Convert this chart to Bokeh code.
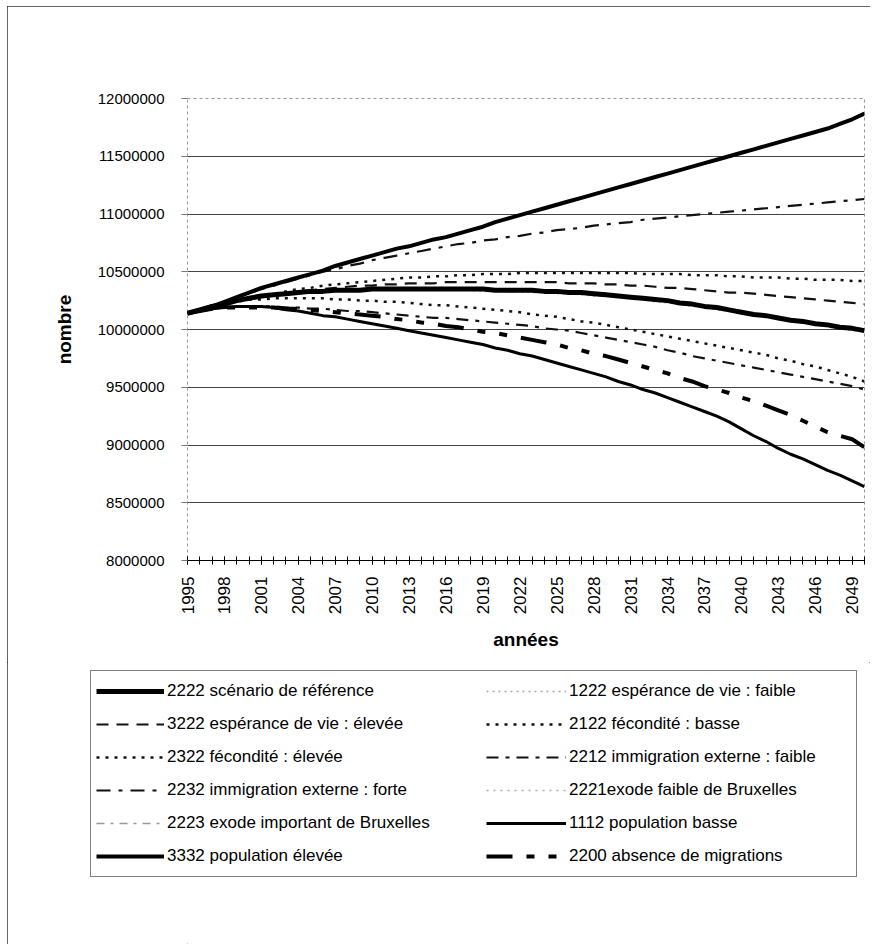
import math
from bokeh.plotting import figure
from bokeh.layouts import column
from bokeh.models import Range1d, FixedTicker, BasicTickFormatter, Legend, LegendItem, ColumnDataSource
from bokeh.embed import file_html
from bokeh.resources import INLINE

years = list(range(1995, 2051))

# values in millions of inhabitants, 1995..2050
s2222 = [10.14, 10.17, 10.20, 10.22, 10.25,
         10.27, 10.29, 10.30, 10.31, 10.32, 10.33, 10.33, 10.34, 10.34, 10.34,
         10.35, 10.35, 10.35, 10.35, 10.35, 10.35, 10.35, 10.35, 10.35, 10.35,
         10.34, 10.34, 10.34, 10.34, 10.33, 10.33, 10.32, 10.32, 10.31, 10.30,
         10.29, 10.28, 10.27, 10.26, 10.25, 10.23, 10.22, 10.20, 10.19, 10.17,
         10.15, 10.13, 10.12, 10.10, 10.08, 10.07, 10.05, 10.04, 10.02, 10.01,
         9.99]
s1222 = [10.14, 10.17, 10.20, 10.22, 10.25,
         10.27, 10.28, 10.30, 10.31, 10.32, 10.32, 10.33, 10.33, 10.34, 10.34,
         10.34, 10.34, 10.34, 10.34, 10.34, 10.34, 10.34, 10.34, 10.34, 10.33,
         10.33, 10.33, 10.33, 10.32, 10.32, 10.31, 10.31, 10.30, 10.29, 10.29,
         10.28, 10.27, 10.26, 10.24, 10.23, 10.22, 10.20, 10.19, 10.17, 10.16,
         10.14, 10.12, 10.11, 10.09, 10.07, 10.06, 10.04, 10.02, 10.01, 9.99,
         9.98]
s3222 = [10.14, 10.17, 10.20, 10.23, 10.25,
         10.27, 10.29, 10.30, 10.32, 10.33, 10.34, 10.35, 10.36, 10.37, 10.38,
         10.38, 10.39, 10.39, 10.40, 10.40, 10.40, 10.41, 10.41, 10.41, 10.41,
         10.41, 10.41, 10.41, 10.41, 10.41, 10.41, 10.40, 10.40, 10.40, 10.39,
         10.39, 10.38, 10.38, 10.37, 10.36, 10.36, 10.35, 10.34, 10.33, 10.32,
         10.32, 10.31, 10.30, 10.29, 10.28, 10.27, 10.26, 10.25, 10.24, 10.23,
         10.22]
s2122 = [10.14, 10.17, 10.20, 10.22, 10.24,
         10.26, 10.26, 10.27, 10.27, 10.27, 10.27, 10.27, 10.26, 10.26, 10.25,
         10.25, 10.24, 10.24, 10.23, 10.22, 10.21, 10.21, 10.20, 10.19, 10.18,
         10.17, 10.16, 10.15, 10.13, 10.12, 10.11, 10.09, 10.07, 10.06, 10.04,
         10.02, 10.00, 9.98, 9.96, 9.94, 9.92, 9.90, 9.88, 9.86, 9.84,
         9.82, 9.80, 9.78, 9.75, 9.73, 9.70, 9.68, 9.65, 9.62, 9.59,
         9.55]
s2322 = [10.14, 10.17, 10.20, 10.23, 10.25,
         10.27, 10.29, 10.31, 10.33, 10.35, 10.36, 10.38, 10.39, 10.40, 10.41,
         10.42, 10.43, 10.44, 10.45, 10.45, 10.46, 10.46, 10.47, 10.47, 10.48,
         10.48, 10.48, 10.49, 10.49, 10.49, 10.49, 10.49, 10.49, 10.49, 10.49,
         10.49, 10.49, 10.48, 10.48, 10.48, 10.48, 10.47, 10.47, 10.47, 10.46,
         10.46, 10.45, 10.45, 10.45, 10.44, 10.44, 10.43, 10.43, 10.43, 10.42,
         10.42]
s2212 = [10.14, 10.16, 10.18, 10.19, 10.20,
         10.20, 10.20, 10.20, 10.19, 10.19, 10.18, 10.18, 10.17, 10.16, 10.16,
         10.15, 10.14, 10.13, 10.12, 10.11, 10.10, 10.10, 10.09, 10.08, 10.07,
         10.06, 10.05, 10.04, 10.03, 10.01, 10.00, 9.99, 9.97, 9.95, 9.93,
         9.91, 9.89, 9.87, 9.85, 9.82, 9.80, 9.77, 9.75, 9.73, 9.71,
         9.69, 9.67, 9.65, 9.63, 9.61, 9.59, 9.57, 9.55, 9.53, 9.51,
         9.48]
s2232 = [10.14, 10.17, 10.21, 10.24, 10.28,
         10.31, 10.35, 10.38, 10.41, 10.44, 10.47, 10.50, 10.52, 10.55, 10.57,
         10.60, 10.62, 10.64, 10.66, 10.68, 10.70, 10.72, 10.74, 10.75, 10.77,
         10.78, 10.80, 10.81, 10.83, 10.84, 10.86, 10.87, 10.88, 10.90, 10.91,
         10.92, 10.93, 10.95, 10.96, 10.97, 10.98, 10.99, 11.00, 11.01, 11.02,
         11.03, 11.04, 11.05, 11.06, 11.07, 11.08, 11.09, 11.10, 11.11, 11.12,
         11.13]
s2221 = [10.14, 10.17, 10.20, 10.23, 10.25,
         10.27, 10.29, 10.30, 10.31, 10.32, 10.33, 10.34, 10.34, 10.35, 10.35,
         10.35, 10.36, 10.36, 10.36, 10.36, 10.36, 10.36, 10.36, 10.36, 10.35,
         10.35, 10.35, 10.34, 10.34, 10.34, 10.33, 10.33, 10.32, 10.31, 10.31,
         10.30, 10.29, 10.28, 10.26, 10.25, 10.24, 10.22, 10.21, 10.19, 10.18,
         10.16, 10.14, 10.12, 10.11, 10.09, 10.07, 10.06, 10.04, 10.03, 10.01,
         10.00]
s2223 = [10.14, 10.17, 10.19, 10.22, 10.24,
         10.26, 10.28, 10.29, 10.30, 10.31, 10.32, 10.33, 10.33, 10.33, 10.34,
         10.34, 10.34, 10.34, 10.34, 10.34, 10.34, 10.34, 10.34, 10.34, 10.34,
         10.34, 10.33, 10.33, 10.33, 10.32, 10.32, 10.31, 10.31, 10.30, 10.29,
         10.28, 10.27, 10.26, 10.25, 10.24, 10.22, 10.21, 10.19, 10.18, 10.16,
         10.14, 10.13, 10.11, 10.09, 10.08, 10.06, 10.04, 10.03, 10.01, 10.00,
         9.98]
s1112 = [10.14, 10.16, 10.18, 10.19, 10.20,
         10.20, 10.20, 10.19, 10.17, 10.16, 10.14, 10.12, 10.11, 10.09, 10.07,
         10.05, 10.03, 10.01, 9.99, 9.97, 9.95, 9.93, 9.91, 9.89, 9.87,
         9.84, 9.82, 9.79, 9.77, 9.74, 9.71, 9.68, 9.65, 9.62, 9.59,
         9.55, 9.52, 9.48, 9.45, 9.41, 9.37, 9.33, 9.29, 9.25, 9.20,
         9.14, 9.08, 9.03, 8.97, 8.92, 8.88, 8.83, 8.78, 8.74, 8.69,
         8.64]
s3332 = [10.14, 10.17, 10.20, 10.24, 10.28,
         10.32, 10.36, 10.39, 10.42, 10.45, 10.48, 10.51, 10.55, 10.58, 10.61,
         10.64, 10.67, 10.70, 10.72, 10.75, 10.78, 10.80, 10.83, 10.86, 10.89,
         10.93, 10.96, 10.99, 11.02, 11.05, 11.08, 11.11, 11.14, 11.17, 11.20,
         11.23, 11.26, 11.29, 11.32, 11.35, 11.38, 11.41, 11.44, 11.47, 11.50,
         11.53, 11.56, 11.59, 11.62, 11.65, 11.68, 11.71, 11.74, 11.78, 11.82,
         11.87]
s2200 = [10.14, 10.16, 10.18, 10.19, 10.19,
         10.19, 10.19, 10.19, 10.18, 10.18, 10.17, 10.16, 10.15, 10.14, 10.13,
         10.12, 10.11, 10.09, 10.08, 10.06, 10.05, 10.03, 10.02, 10.00, 9.98,
         9.97, 9.95, 9.93, 9.91, 9.89, 9.87, 9.84, 9.82, 9.79, 9.77,
         9.74, 9.71, 9.68, 9.65, 9.62, 9.58, 9.55, 9.51, 9.48, 9.45,
         9.41, 9.38, 9.34, 9.30, 9.26, 9.21, 9.16, 9.11, 9.08, 9.05,
         8.98]

labels = {
    "2222": "2222 scénario de référence",
    "1222": "1222 espérance de vie : faible",
    "3222": "3222 espérance de vie : élevée",
    "2122": "2122 fécondité : basse",
    "2322": "2322 fécondité : élevée",
    "2212": "2212 immigration externe : faible",
    "2232": "2232 immigration externe : forte",
    "2221": "2221exode faible de Bruxelles",
    "2223": "2223 exode important de Bruxelles",
    "1112": "1112 population basse",
    "3332": "3332 population élevée",
    "2200": "2200 absence de migrations",
}
series = {"2222": s2222, "1222": s1222, "3222": s3222, "2122": s2122, "2322": s2322,
          "2212": s2212, "2232": s2232, "2221": s2221, "2223": s2223, "1112": s1112,
          "3332": s3332, "2200": s2200}
legend_left_col = ["2222", "3222", "2322", "2232", "2223", "3332"]
legend_right_col = ["1222", "2122", "2212", "2221", "1112", "2200"]
draw_order = ["1222", "2221", "2223", "3222", "2122", "2322", "2212", "2232",
              "2200", "1112", "3332", "2222"]
styles = {
    "2222": dict(line_color="black", line_width=5, line_dash="solid"),
    "1222": dict(line_color="#a8a8a8", line_width=1.5, line_dash="2 4"),
    "3222": dict(line_color="#111111", line_width=2.2, line_dash="12 8"),
    "2122": dict(line_color="#111111", line_width=2.5, line_dash="3 6"),
    "2322": dict(line_color="#111111", line_width=2.5, line_dash="3 6"),
    "2212": dict(line_color="#111111", line_width=2.2, line_dash="12 7 4 7"),
    "2232": dict(line_color="#111111", line_width=2.2, line_dash="14 8 4 8"),
    "2221": dict(line_color="#b0b0b0", line_width=1.5, line_dash="2 5"),
    "2223": dict(line_color="#9a9a9a", line_width=1.5, line_dash="8 6 3 6"),
    "1112": dict(line_color="black", line_width=3, line_dash="solid"),
    "3332": dict(line_color="black", line_width=4, line_dash="solid"),
    "2200": dict(line_color="black", line_width=4, line_dash="26 14 8 14 8 14"),
}

y_ticks = [8000000 + 500000 * i for i in range(9)]
x_major = list(range(1995, 2051, 3))
x_minor = list(range(1995, 2051))

FONT = "Liberation Sans"

# ---------------- main chart ----------------
p = figure(frame_width=677, frame_height=462,
           min_border_left=180, min_border_right=6, min_border_top=92, min_border_bottom=102,
           x_range=Range1d(1995, 2050), y_range=Range1d(8000000, 12000000),
           output_backend="svg", toolbar_location=None,
           background_fill_color="white", border_fill_color="white")

p.outline_line_color = "#999999"
p.outline_line_dash = "3 3"
p.outline_line_width = 1

p.xgrid.visible = False
p.ygrid.grid_line_color = "#444444"
p.ygrid.grid_line_width = 1.2

yax = p.yaxis[0]
yax.ticker = FixedTicker(ticks=y_ticks)
yax.formatter = BasicTickFormatter(use_scientific=False)
yax.axis_line_color = None
yax.major_tick_out = 6
yax.major_tick_in = 0
yax.minor_tick_out = 0
yax.minor_tick_in = 0
yax.major_tick_line_color = "#777777"
yax.major_label_standoff = 17
yax.major_label_text_font = FONT
yax.major_label_text_font_size = "15px"
yax.major_label_text_color = "black"
yax.axis_label = "nombre"
yax.axis_label_text_font = FONT
yax.axis_label_text_font_size = "19px"
yax.axis_label_text_font_style = "bold"
yax.axis_label_text_color = "black"
yax.axis_label_standoff = 20

xax = p.xaxis[0]
xax.ticker = FixedTicker(ticks=x_major, minor_ticks=x_minor)
xax.axis_line_color = "black"
xax.axis_line_width = 1
xax.major_tick_in = 4
xax.major_tick_out = 4
xax.minor_tick_in = 4
xax.minor_tick_out = 4
xax.major_tick_line_color = "black"
xax.minor_tick_line_color = "black"
xax.major_label_orientation = math.pi / 2
xax.major_label_standoff = 12
xax.major_label_text_font = FONT
xax.major_label_text_font_size = "17px"
xax.major_label_text_color = "black"
xax.axis_label = "années"
xax.axis_label_text_font = FONT
xax.axis_label_text_font_size = "19px"
xax.axis_label_text_font_style = "bold"
xax.axis_label_text_color = "black"
xax.axis_label_standoff = 12

for key in draw_order:
    src = ColumnDataSource(data=dict(x=years, y=[v * 1000000 for v in series[key]]))
    p.line("x", "y", source=src, line_join="round", **styles[key])

# ---------------- legend panel ----------------
# the same series are drawn again in a second figure whose ranges keep them out of
# view; they only serve as the legend's line samples
p2 = figure(frame_width=863, frame_height=282, min_border=0,
            x_range=Range1d(0, 1), y_range=Range1d(0, 1),
            x_axis_location=None, y_axis_location=None,
            output_backend="svg", toolbar_location=None,
            background_fill_color="white", border_fill_color="white")
p2.outline_line_color = None
p2.grid.visible = False

proxies = {}
for key in draw_order:
    src2 = ColumnDataSource(data=dict(x=years, y=[v * 1000000 for v in series[key]]))
    proxies[key] = p2.line("x", "y", source=src2, **styles[key])

common = dict(glyph_height=30, label_height=30, spacing=3, padding=5,
              label_standoff=3, margin=0, orientation="vertical",
              label_text_font=FONT, label_text_font_size="17px", label_text_color="black")

legA = Legend(items=[LegendItem(label=labels[k], renderers=[proxies[k]]) for k in legend_left_col],
              location=(83, 67), glyph_width=68, label_width=684,
              border_line_color="black", border_line_width=1,
              background_fill_color="white", background_fill_alpha=1, **common)
legB = Legend(items=[LegendItem(label=labels[k], renderers=[proxies[k]]) for k in legend_right_col],
              location=(479, 73), glyph_width=80, label_width=200,
              border_line_color=None, background_fill_alpha=0, **common)
p2.add_layout(legA)
p2.add_layout(legB)

layout = column(p, p2, spacing=0)
layout.styles = {"margin-left": "7px", "margin-top": "6px",
                 "outline": "1px solid #333", "outline-offset": "-1px"}

open("out.html", "w").write(file_html(layout, INLINE))
